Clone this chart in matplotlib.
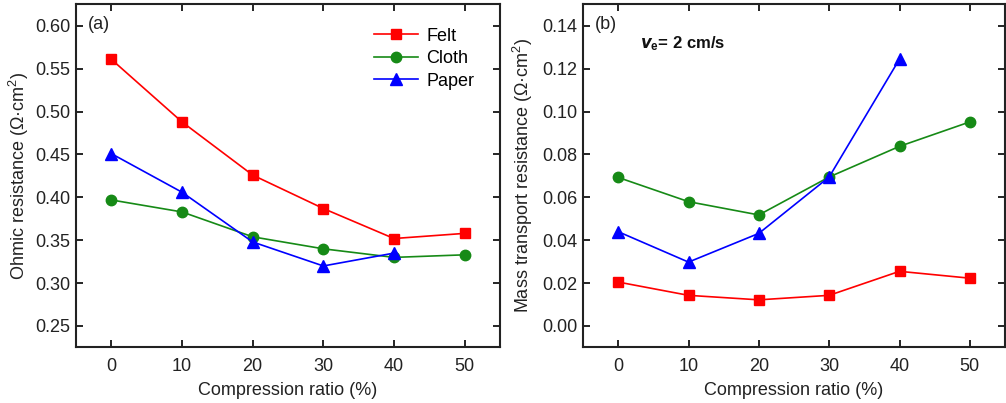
import matplotlib.pyplot as plt
import numpy as np

plt.rcParams['font.family'] = ['Liberation Sans', 'DejaVu Sans']
plt.rcParams['mathtext.fontset'] = 'custom'
plt.rcParams['mathtext.rm'] = 'Liberation Sans'
plt.rcParams['mathtext.it'] = 'Liberation Sans:italic'
plt.rcParams['mathtext.bf'] = 'Liberation Sans:bold'

# data
ratio = [0, 10, 20, 30, 40, 50]
ratio_paper = [0, 10, 20, 30, 40]

ohmic_felt = [0.561, 0.488, 0.426, 0.387, 0.352, 0.358]
ohmic_cloth = [0.397, 0.383, 0.354, 0.340, 0.330, 0.333]
ohmic_paper = [0.451, 0.406, 0.348, 0.320, 0.335]

mass_felt = [0.0205, 0.0143, 0.0122, 0.0143, 0.0255, 0.0223]
mass_cloth = [0.0693, 0.0580, 0.0518, 0.0695, 0.0838, 0.0952]
mass_paper = [0.0440, 0.0298, 0.0432, 0.0695, 0.1245]

c_red = '#ff0000'
c_green = '#168a16'
c_blue = '#0000ff'
txt = '#222222'
fs = 13

fig = plt.figure(figsize=(10.06, 4.03), dpi=100)
ax1 = fig.add_axes([76/1006, 1-347/403, 424/1006, 343/403])
ax2 = fig.add_axes([583/1006, 1-347/403, 422/1006, 343/403])


def style_axis(ax):
    for sp in ax.spines.values():
        sp.set_linewidth(1.5)
        sp.set_color(txt)
    ax.tick_params(direction='in', length=5, width=1.2, top=True, right=True,
                   labelsize=fs, labelcolor=txt)
    ax.tick_params(axis='y', pad=4)
    ax.tick_params(axis='x', pad=8)
    ax.set_xlim(-5, 55)
    ax.set_xticks(ratio)
    ax.set_xlabel('Compression ratio (%)', fontsize=fs, color=txt, labelpad=5)


# (a) ohmic resistance
ax1.plot(ratio, ohmic_felt, '-s', color=c_red, ms=7, lw=1.2, label='Felt')
ax1.plot(ratio, ohmic_cloth, '-o', color=c_green, ms=7.5, lw=1.2, label='Cloth')
ax1.plot(ratio_paper, ohmic_paper, '-^', color=c_blue, ms=8, lw=1.2, label='Paper')
style_axis(ax1)
ax1.set_ylim(0.2255, 0.6255)
ax1.set_yticks(np.arange(0.25, 0.61, 0.05))
ax1.set_yticklabels(['%.2f' % v for v in np.arange(0.25, 0.61, 0.05)])
ax1.set_ylabel('Ohmic resistance (\u03a9\u00b7cm$^2$)', fontsize=fs, color=txt, labelpad=3)
ax1.text(0.027, 0.94, '(a)', transform=ax1.transAxes, fontsize=fs, color=txt, va='center')
ax1.legend(loc='upper left', bbox_to_anchor=(0.665, 0.978), frameon=False, fontsize=fs,
           handlelength=2.4, labelspacing=0.3, handletextpad=0.5)

# (b) mass transport resistance
ax2.plot(ratio, mass_felt, '-s', color=c_red, ms=7, lw=1.2)
ax2.plot(ratio, mass_cloth, '-o', color=c_green, ms=7.5, lw=1.2)
ax2.plot(ratio_paper, mass_paper, '-^', color=c_blue, ms=8, lw=1.2)
style_axis(ax2)
ax2.set_ylim(-0.0098, 0.1502)
ax2.set_yticks(np.arange(0, 0.141, 0.02))
ax2.set_yticklabels(['%.2f' % v for v in np.arange(0, 0.141, 0.02)])
ax2.set_ylabel('Mass transport resistance (\u03a9\u00b7cm$^2$)', fontsize=fs, color=txt, labelpad=5)
ax2.text(0.027, 0.94, '(b)', transform=ax2.transAxes, fontsize=fs, color=txt, va='center')
ax2.text(0.135, 0.885, r'$\mathbfit{v}_\mathbf{e}$= 2 cm/s', transform=ax2.transAxes,
         fontsize=12, fontweight='bold', color='#111111', va='center')

fig.savefig('out.png', dpi=100)
